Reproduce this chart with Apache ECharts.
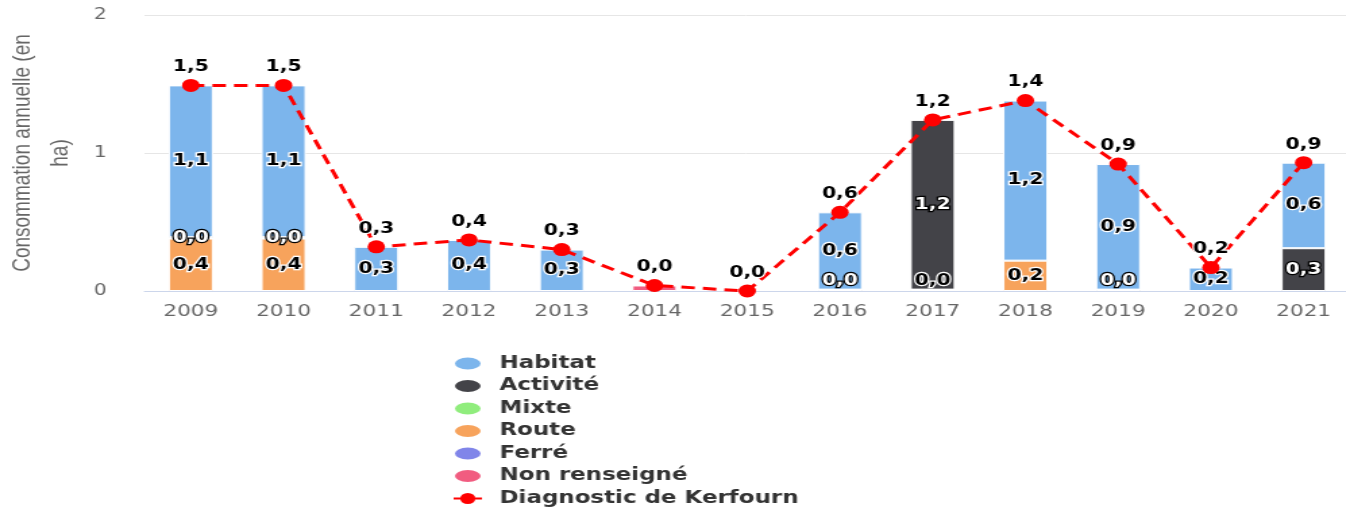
<!DOCTYPE html>
<html>
<head>
<meta charset="utf-8">
<script src="https://cdn.jsdelivr.net/npm/echarts@6/dist/echarts.min.js"></script>
<style>
html, body { margin: 0; padding: 0; background: #fff; overflow: hidden; }
/* the reference is stretched horizontally, so the chart is drawn narrow and scaled */
#chart { width: 997px; height: 508px; transform: scaleX(1.35); transform-origin: 0 0; }
</style>
</head>
<body>
<div id="chart"></div>
<script>
var years = ['2009', '2010', '2011', '2012', '2013', '2014', '2015', '2016', '2017', '2018', '2019', '2020', '2021'];
var habitat      = [1.10, 1.10, 0.32, 0.37, 0.30, null, null, 0.56, null, 1.16, 0.91, 0.17, 0.62];
var activite     = [0.01, 0.01, null, null, null, null, null, 0.01, 1.23, null, 0.01, null, 0.31];
var mixte        = [null, null, null, null, null, null, null, null, 0.01, null, null, null, null];
var route        = [0.38, 0.38, null, null, null, null, null, null, null, 0.22, null, null, null];
var ferre        = [null, null, null, null, null, null, null, null, null, null, null, null, null];
var nonRenseigne = [null, null, null, null, null, 0.04, null, null, null, null, null, null, null];
var diagnostic   = [1.49, 1.49, 0.32, 0.37, 0.30, 0.04, 0.00, 0.57, 1.24, 1.38, 0.92, 0.17, 0.93];
var yTicks = [0, 1, 2];

function fmt(v) { return v.toFixed(1).replace('.', ','); }

var font = 'DejaVu Sans';
var ellipse = 'path://M0,50 A50,50 0 1,1 100,50 A50,50 0 1,1 0,50 Z';

// stacking order, bottom first
var stack = [
  { name: 'Non renseigné', data: nonRenseigne, color: '#f15c80', showLabel: false },
  { name: 'Ferré', data: ferre, color: '#8085e9' },
  { name: 'Route', data: route, color: '#f7a35c' },
  { name: 'Mixte', data: mixte, color: '#90ed7d' },
  { name: 'Activité', data: activite, color: '#434348', dark: true },
  { name: 'Habitat', data: habitat, color: '#7cb5ec' }
];

// bottom segment of each column: tiny ones get their label lifted above the axis
var bottomOf = years.map(function (y, i) {
  for (var k = 0; k < stack.length; k++) {
    if (stack[k].data[i] != null) return k;
  }
  return -1;
});

var series = stack.map(function (s, k) {
  return {
    name: s.name,
    type: 'bar',
    stack: 'total',
    barWidth: 33,
    itemStyle: { color: s.color, borderColor: '#fff', borderWidth: 1 },
    label: {
      show: s.showLabel !== false,
      position: 'inside',
      fontFamily: font,
      fontSize: 15,
      fontWeight: 'bold',
      color: s.dark ? '#fff' : '#000',
      textBorderColor: s.dark ? '#000' : '#fff',
      textBorderWidth: 2.5,
      formatter: function (p) { return fmt(p.value); }
    },
    data: s.data.map(function (v, i) {
      if (v != null && bottomOf[i] === k && v < 0.05) {
        return { value: v, label: { position: 'insideBottom', distance: 2 } };
      }
      return v;
    })
  };
});

series.push({
  name: 'Diagnostic de Kerfourn',
  type: 'line',
  z: 5,
  symbol: 'circle',
  symbolSize: 13,
  itemStyle: { color: '#ff0000' },
  lineStyle: { color: '#ff0000', width: 3, type: [10, 6] },
  label: {
    show: true,
    position: 'top',
    distance: 4,
    fontFamily: font,
    fontSize: 15,
    fontWeight: 'bold',
    color: '#000',
    textBorderColor: '#fff',
    textBorderWidth: 2.5,
    formatter: function (p) { return fmt(p.value); }
  },
  data: diagnostic
});

var legendNames = ['Habitat', 'Activité', 'Mixte', 'Route', 'Ferré', 'Non renseigné'];

var myChart = echarts.init(document.getElementById('chart'));
var option = {
  animation: false,
  grid: { left: 107, top: 15, width: 893, bottom: 217, containLabel: false, outerBoundsMode: 'none' },
  legend: {
    orient: 'vertical',
    left: 335,
    top: 355,
    padding: 0,
    itemWidth: 21,
    itemHeight: 14,
    itemGap: 5.5,
    symbolKeepAspect: false,
    textStyle: { fontFamily: font, fontSize: 17, fontWeight: 'bold', color: '#333', lineHeight: 17, padding: [0, 0, 0, 8] },
    data: legendNames.map(function (n) { return { name: n, icon: ellipse }; })
      .concat([{ name: 'Diagnostic de Kerfourn' }])
  },
  xAxis: {
    type: 'category',
    data: years,
    axisTick: { show: false },
    axisLine: { lineStyle: { color: '#ccd6eb' } },
    axisLabel: { margin: 13, color: '#666', fontFamily: font, fontSize: 16 }
  },
  yAxis: {
    type: 'value',
    min: yTicks[0],
    max: yTicks[yTicks.length - 1],
    interval: 1,
    name: 'Consommation annuelle (en\nha)',
    nameLocation: 'middle',
    nameRotate: 90,
    nameGap: 47,
    nameTextStyle: { fontFamily: 'Liberation Sans', fontSize: 19, color: '#666', lineHeight: 28 },
    axisLabel: { margin: 28, color: '#666', fontFamily: font, fontSize: 15 },
    splitLine: { lineStyle: { color: '#e6e6e6' } }
  },
  series: series
};
myChart.setOption(option);
</script>
</body>
</html>
